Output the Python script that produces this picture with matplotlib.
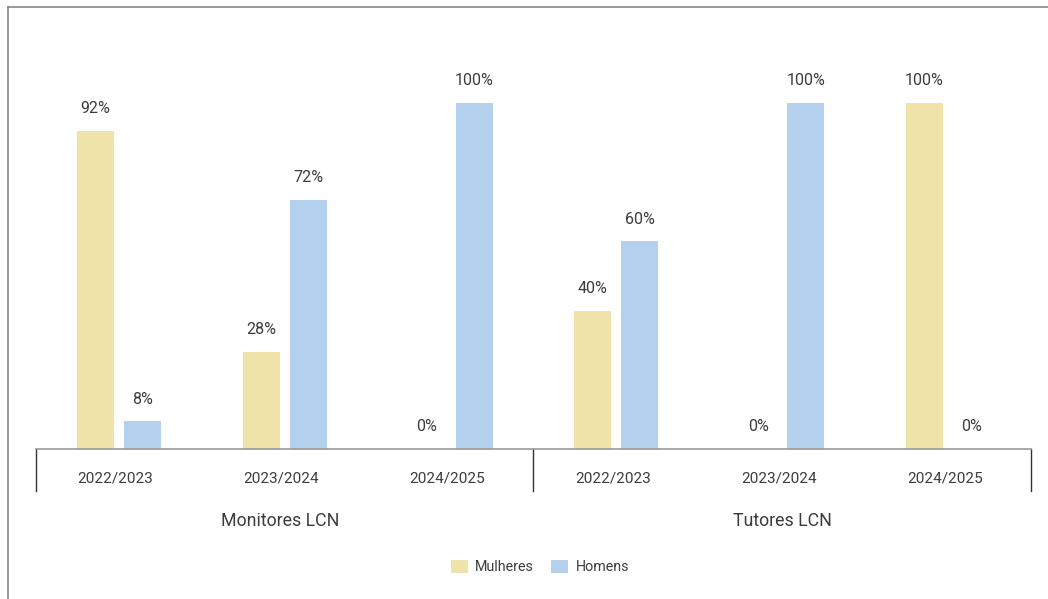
import numpy as np
import matplotlib.pyplot as plt
from matplotlib.lines import Line2D

plt.rcParams['font.family'] = ['Roboto', 'DejaVu Sans']

# Data
groups = ["Monitores LCN", "Tutores LCN"]
years = ["2022/2023", "2023/2024", "2024/2025"]
mulheres = [92, 28, 0, 40, 0, 100]
homens = [8, 72, 100, 60, 100, 0]

MULHERES_COLOR = "#F0E3AA"
HOMENS_COLOR = "#B3D1EC"
TEXT_COLOR = "#3c3c3c"

W, H = 1048, 599
fig = plt.figure(figsize=(W / 100, H / 100), dpi=100)

# axes placement in pixels
left, right, bottom, top = 36, 1031, 449, 7
ax = fig.add_axes([left / W, 1 - bottom / H, (right - left) / W, (bottom - top) / H])

n = len(mulheres)
x = np.arange(n)
width = 0.223
off = 0.142
b1 = ax.bar(x - off, mulheres, width, color=MULHERES_COLOR, label="Mulheres")
b2 = ax.bar(x + off, homens, width, color=HOMENS_COLOR, label="Homens")

for bars in (b1, b2):
    for rect in bars:
        h = rect.get_height()
        ax.annotate(f"{h:g}%", (rect.get_x() + rect.get_width() / 2, h),
                    xytext=(0, 16), textcoords="offset points",
                    ha="center", va="center", fontsize=11.5, color=TEXT_COLOR)

ax.set_xlim(-0.5, n - 0.5)
ax.set_ylim(0, (bottom - top) / 346 * 100)
ax.set_yticks([])
ax.set_xticks([])
for s in ["top", "right", "left"]:
    ax.spines[s].set_visible(False)
ax.spines["bottom"].set_color("#999999")
ax.spines["bottom"].set_linewidth(1.2)

# year labels and group labels
for i in range(n):
    ax.text(i - 0.02, -0.066, years[i % 3], transform=ax.get_xaxis_transform(),
            ha="center", va="center", fontsize=11, color=TEXT_COLOR)
for g, name in enumerate(groups):
    ax.text(g * 3 + 0.97 + 0.03 * g, -0.163, name, transform=ax.get_xaxis_transform(),
            ha="center", va="center", fontsize=12.8, color=TEXT_COLOR)

# group separators
for xs in [-0.5, 2.5, 5.5]:
    ax.add_line(Line2D([xs, xs], [0, -0.095], transform=ax.get_xaxis_transform(),
                       color="#333333", linewidth=1, clip_on=False))

# outer border (top and left)
fig.add_artist(Line2D([8 / W, 1], [1 - 7 / H, 1 - 7 / H], color="#888888", linewidth=1.2))
fig.add_artist(Line2D([8 / W, 8 / W], [0, 1 - 7 / H], color="#888888", linewidth=1.2))

fig.legend(handles=[b1, b2], loc="center", bbox_to_anchor=(540 / W, 1 - 567 / H),
           ncol=2, frameon=False, fontsize=10.3, handlelength=1.2, handleheight=1.0,
           columnspacing=1.2, handletextpad=0.5, labelcolor=TEXT_COLOR)

fig.savefig("out.png", dpi=100)
